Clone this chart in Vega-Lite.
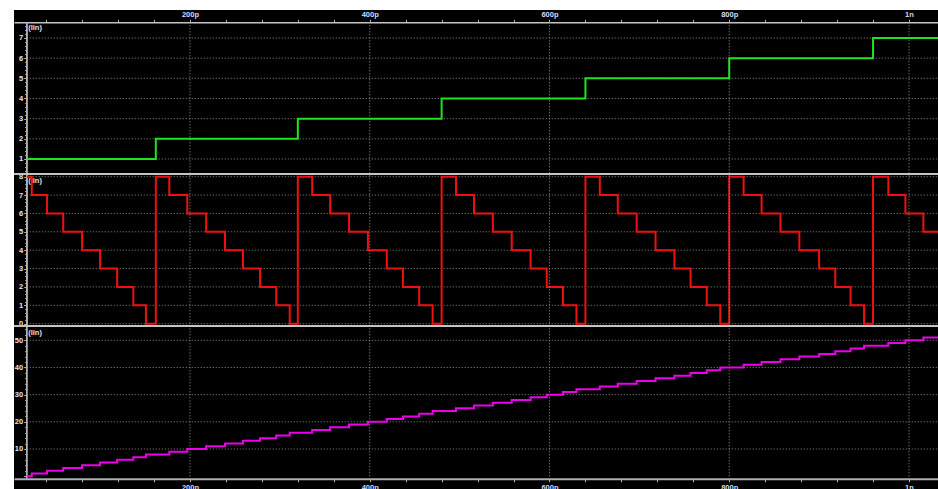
{
  "$schema": "https://vega.github.io/schema/vega-lite/v6.json",
  "width": 924,
  "height": 479,
  "autosize": {"type": "none"},
  "padding": {"left": 14, "top": 10, "right": 0, "bottom": 0},
  "background": "#ffffff",
  "config": {
    "view": {"fill": "#000000", "stroke": null},
    "axis": {
      "labelFont": "Liberation Sans",
      "labelFontWeight": "bold",
      "labelFontSize": 7.5,
      "labelColor": "#e4e4f6",
      "tickColor": "#b4b4b4",
      "domainColor": "#b4b4b4",
      "grid": false,
      "labelOverlap": false,
      "labelBound": false,
      "labelFlush": false,
      "titleFont": "Liberation Sans",
      "titleFontWeight": "bold",
      "titleFontSize": 7.5,
      "titleColor": "#e4e4f6"
    },
    "axisLeft": {"offset": -12.7, "domain": false, "labelPadding": 1, "titleAngle": 0, "titleAlign": "left", "titleBaseline": "middle", "titleX": 1},
    "axisTop": {"offset": -12.3, "tickSize": 3, "labelPadding": 1, "domainWidth": 1.5, "domainColor": "#c4c4c4", "labelColor": "#d6dcff"},
    "axisBottom": {"offset": -10.3, "tickSize": 3, "labelPadding": 2, "domainWidth": 2, "domainColor": "#a9b0b0", "labelColor": "#d6dcff"}
  },
  "datasets": {
    "gridTime": [{"t": 200}, {"t": 400}, {"t": 600}, {"t": 800}, {"t": 1000}],
    "gridA": [{"v": 1}, {"v": 2}, {"v": 3}, {"v": 4}, {"v": 5}, {"v": 6}, {"v": 7}],
    "gridB": [{"v": 0}, {"v": 1}, {"v": 2}, {"v": 3}, {"v": 4}, {"v": 5}, {"v": 6}, {"v": 7}, {"v": 8}],
    "gridC": [{"v": 10}, {"v": 20}, {"v": 30}, {"v": 40}, {"v": 50}],
    "stage": [
      {"t": 18.4, "v": 1}, {"t": 162, "v": 2}, {"t": 320, "v": 3}, {"t": 480, "v": 4},
      {"t": 640, "v": 5}, {"t": 800, "v": 6}, {"t": 960, "v": 7}, {"t": 1032.27, "v": 7}
    ],
    "countdown": [
      {"t": 18.4, "v": 8}, {"t": 24, "v": 7}, {"t": 41, "v": 6}, {"t": 59, "v": 5}, {"t": 80, "v": 4},
      {"t": 100, "v": 3}, {"t": 119, "v": 2}, {"t": 137, "v": 1}, {"t": 151, "v": 0},
      {"t": 162, "v": 8}, {"t": 177, "v": 7}, {"t": 197, "v": 6}, {"t": 218, "v": 5}, {"t": 239, "v": 4},
      {"t": 259, "v": 3}, {"t": 278, "v": 2}, {"t": 296, "v": 1}, {"t": 311, "v": 0},
      {"t": 320, "v": 8}, {"t": 336, "v": 7}, {"t": 356, "v": 6}, {"t": 377, "v": 5}, {"t": 398, "v": 4},
      {"t": 419, "v": 3}, {"t": 437, "v": 2}, {"t": 455, "v": 1}, {"t": 470, "v": 0},
      {"t": 480, "v": 8}, {"t": 496, "v": 7}, {"t": 516, "v": 6}, {"t": 537, "v": 5}, {"t": 558, "v": 4},
      {"t": 579, "v": 3}, {"t": 597, "v": 2}, {"t": 615, "v": 1}, {"t": 630, "v": 0},
      {"t": 640, "v": 8}, {"t": 656, "v": 7}, {"t": 676, "v": 6}, {"t": 697, "v": 5}, {"t": 718, "v": 4},
      {"t": 739, "v": 3}, {"t": 757, "v": 2}, {"t": 775, "v": 1}, {"t": 790, "v": 0},
      {"t": 800, "v": 8}, {"t": 816, "v": 7}, {"t": 836, "v": 6}, {"t": 857, "v": 5}, {"t": 878, "v": 4},
      {"t": 900, "v": 3}, {"t": 918, "v": 2}, {"t": 935, "v": 1}, {"t": 950, "v": 0},
      {"t": 960, "v": 8}, {"t": 977, "v": 7}, {"t": 996, "v": 6}, {"t": 1016, "v": 5}, {"t": 1032.27, "v": 5}
    ],
    "total": [
      {"t": 18.4, "v": 0}, {"t": 24, "v": 1}, {"t": 41, "v": 2}, {"t": 59, "v": 3}, {"t": 80, "v": 4},
      {"t": 100, "v": 5}, {"t": 119, "v": 6}, {"t": 137, "v": 7}, {"t": 151, "v": 8},
      {"t": 177, "v": 9}, {"t": 197, "v": 10}, {"t": 218, "v": 11}, {"t": 239, "v": 12},
      {"t": 259, "v": 13}, {"t": 278, "v": 14}, {"t": 296, "v": 15}, {"t": 311, "v": 16},
      {"t": 336, "v": 17}, {"t": 356, "v": 18}, {"t": 377, "v": 19}, {"t": 398, "v": 20},
      {"t": 419, "v": 21}, {"t": 437, "v": 22}, {"t": 455, "v": 23}, {"t": 470, "v": 24},
      {"t": 496, "v": 25}, {"t": 516, "v": 26}, {"t": 537, "v": 27}, {"t": 558, "v": 28},
      {"t": 579, "v": 29}, {"t": 597, "v": 30}, {"t": 615, "v": 31}, {"t": 630, "v": 32},
      {"t": 656, "v": 33}, {"t": 676, "v": 34}, {"t": 697, "v": 35}, {"t": 718, "v": 36},
      {"t": 739, "v": 37}, {"t": 757, "v": 38}, {"t": 775, "v": 39}, {"t": 790, "v": 40},
      {"t": 816, "v": 41}, {"t": 836, "v": 42}, {"t": 857, "v": 43}, {"t": 878, "v": 44},
      {"t": 900, "v": 45}, {"t": 918, "v": 46}, {"t": 935, "v": 47}, {"t": 950, "v": 48},
      {"t": 977, "v": 49}, {"t": 996, "v": 50}, {"t": 1016, "v": 51}, {"t": 1032.27, "v": 51}
    ]
  },
  "layer": [
    {
      "layer": [
        {
          "data": {"name": "gridA"},
          "mark": {"type": "rule", "color": "#8c8c8c", "strokeDash": [1, 2], "strokeWidth": 1},
          "encoding": {
            "x": {"datum": 18.4, "type": "quantitative", "scale": {"domain": [4.228, 1032.27], "nice": false, "zero": false},
              "axis": {"orient": "top", "title": null, "values": [40, 80, 120, 160, 200, 240, 280, 320, 360, 400, 440, 480, 520, 560, 600, 640, 680, 720, 760, 800, 840, 880, 920, 960, 1000], "labelExpr": "datum.value === 1000 ? '1n' : (datum.value % 200 === 0 ? datum.value + 'p' : '')"}},
            "x2": {"datum": 1032.27},
            "y": {"field": "v", "type": "quantitative", "scale": {"domain": [-15.363, 8.388], "nice": false, "zero": false},
              "axis": {"orient": "left", "values": [0.4, 0.6, 0.8, 1, 1.2, 1.4, 1.6, 1.8, 2, 2.2, 2.4, 2.6, 2.8, 3, 3.2, 3.4, 3.6, 3.8, 4, 4.2, 4.4, 4.6, 4.8, 5, 5.2, 5.4, 5.6, 5.8, 6, 6.2, 6.4, 6.6, 6.8, 7, 7.2, 7.4, 7.6], "labelExpr": "datum.value % 1 === 0 ? format(datum.value, 'd') : ''", "tickSize": {"condition": {"test": "datum.value % 1 === 0", "value": 3}, "value": 2}, "title": "(lin)", "titleY": 17.5}}
          }
        },
        {
          "data": {"name": "gridA"},
          "mark": {"type": "rule", "color": "#b4b4b4", "strokeWidth": 1},
          "encoding": {
            "x": {"datum": 18.4, "type": "quantitative", "scale": {"domain": [4.228, 1032.27], "nice": false, "zero": false},
              "axis": {"orient": "top", "title": null, "values": [40, 80, 120, 160, 200, 240, 280, 320, 360, 400, 440, 480, 520, 560, 600, 640, 680, 720, 760, 800, 840, 880, 920, 960, 1000], "labelExpr": "datum.value === 1000 ? '1n' : (datum.value % 200 === 0 ? datum.value + 'p' : '')"}},
            "y": {"datum": 7.778, "type": "quantitative", "scale": {"domain": [-15.363, 8.388], "nice": false, "zero": false},
              "axis": {"orient": "left", "values": [0.4, 0.6, 0.8, 1, 1.2, 1.4, 1.6, 1.8, 2, 2.2, 2.4, 2.6, 2.8, 3, 3.2, 3.4, 3.6, 3.8, 4, 4.2, 4.4, 4.6, 4.8, 5, 5.2, 5.4, 5.6, 5.8, 6, 6.2, 6.4, 6.6, 6.8, 7, 7.2, 7.4, 7.6], "labelExpr": "datum.value % 1 === 0 ? format(datum.value, 'd') : ''", "tickSize": {"condition": {"test": "datum.value % 1 === 0", "value": 3}, "value": 2}, "title": "(lin)", "titleY": 17.5}},
            "y2": {"datum": 0.256}
          }
        },
        {
          "data": {"name": "stage"},
          "mark": {"type": "line", "interpolate": "step-after", "color": "#1ee31e", "strokeWidth": 2, "clip": true},
          "encoding": {
            "x": {"field": "t", "type": "quantitative", "scale": {"domain": [4.228, 1032.27], "nice": false, "zero": false},
              "axis": {"orient": "top", "title": null, "values": [40, 80, 120, 160, 200, 240, 280, 320, 360, 400, 440, 480, 520, 560, 600, 640, 680, 720, 760, 800, 840, 880, 920, 960, 1000], "labelExpr": "datum.value === 1000 ? '1n' : (datum.value % 200 === 0 ? datum.value + 'p' : '')"}},
            "y": {"field": "v", "type": "quantitative", "scale": {"domain": [-15.363, 8.388], "nice": false, "zero": false},
              "axis": {"orient": "left", "values": [0.4, 0.6, 0.8, 1, 1.2, 1.4, 1.6, 1.8, 2, 2.2, 2.4, 2.6, 2.8, 3, 3.2, 3.4, 3.6, 3.8, 4, 4.2, 4.4, 4.6, 4.8, 5, 5.2, 5.4, 5.6, 5.8, 6, 6.2, 6.4, 6.6, 6.8, 7, 7.2, 7.4, 7.6], "labelExpr": "datum.value % 1 === 0 ? format(datum.value, 'd') : ''", "tickSize": {"condition": {"test": "datum.value % 1 === 0", "value": 3}, "value": 2}, "title": "(lin)", "titleY": 17.5}}
          }
        }
      ]
    },
    {
      "layer": [
        {
          "data": {"name": "gridB"},
          "mark": {"type": "rule", "color": "#8c8c8c", "strokeDash": [1, 2], "strokeWidth": 1},
          "encoding": {
            "x": {"datum": 18.4, "type": "quantitative", "scale": {"domain": [4.228, 1032.27], "nice": false, "zero": false}, "axis": null},
            "x2": {"datum": 1032.27},
            "y": {"field": "v", "type": "quantitative", "scale": {"domain": [-8.998, 17.07], "nice": false, "zero": false},
              "axis": {"orient": "left", "values": [0, 0.2, 0.4, 0.6, 0.8, 1, 1.2, 1.4, 1.6, 1.8, 2, 2.2, 2.4, 2.6, 2.8, 3, 3.2, 3.4, 3.6, 3.8, 4, 4.2, 4.4, 4.6, 4.8, 5, 5.2, 5.4, 5.6, 5.8, 6, 6.2, 6.4, 6.6, 6.8, 7, 7.2, 7.4, 7.6, 7.8, 8], "labelExpr": "datum.value % 1 === 0 ? format(datum.value, 'd') : ''", "tickSize": {"condition": {"test": "datum.value % 1 === 0", "value": 3}, "value": 2}, "title": "(lin)", "titleY": 170.5}}
          }
        },
        {
          "data": {"name": "gridB"},
          "mark": {"type": "rule", "color": "#b4b4b4", "strokeWidth": 1},
          "encoding": {
            "x": {"datum": 18.4, "type": "quantitative", "scale": {"domain": [4.228, 1032.27], "nice": false, "zero": false}, "axis": null},
            "y": {"datum": 8.145, "type": "quantitative", "scale": {"domain": [-8.998, 17.07], "nice": false, "zero": false},
              "axis": {"orient": "left", "values": [0, 0.2, 0.4, 0.6, 0.8, 1, 1.2, 1.4, 1.6, 1.8, 2, 2.2, 2.4, 2.6, 2.8, 3, 3.2, 3.4, 3.6, 3.8, 4, 4.2, 4.4, 4.6, 4.8, 5, 5.2, 5.4, 5.6, 5.8, 6, 6.2, 6.4, 6.6, 6.8, 7, 7.2, 7.4, 7.6, 7.8, 8], "labelExpr": "datum.value % 1 === 0 ? format(datum.value, 'd') : ''", "tickSize": {"condition": {"test": "datum.value % 1 === 0", "value": 3}, "value": 2}, "title": "(lin)", "titleY": 170.5}},
            "y2": {"datum": -0.125}
          }
        },
        {
          "data": {"name": "gridB"},
          "mark": {"type": "rule", "color": "#c4c4c4", "strokeWidth": 1.5},
          "encoding": {
            "x": {"datum": 4.228, "type": "quantitative", "scale": {"domain": [4.228, 1032.27], "nice": false, "zero": false}, "axis": null},
            "x2": {"datum": 1032.27},
            "y": {"datum": 8.145, "type": "quantitative", "scale": {"domain": [-8.998, 17.07], "nice": false, "zero": false},
              "axis": {"orient": "left", "values": [0, 0.2, 0.4, 0.6, 0.8, 1, 1.2, 1.4, 1.6, 1.8, 2, 2.2, 2.4, 2.6, 2.8, 3, 3.2, 3.4, 3.6, 3.8, 4, 4.2, 4.4, 4.6, 4.8, 5, 5.2, 5.4, 5.6, 5.8, 6, 6.2, 6.4, 6.6, 6.8, 7, 7.2, 7.4, 7.6, 7.8, 8], "labelExpr": "datum.value % 1 === 0 ? format(datum.value, 'd') : ''", "tickSize": {"condition": {"test": "datum.value % 1 === 0", "value": 3}, "value": 2}, "title": "(lin)", "titleY": 170.5}}
          }
        },
        {
          "data": {"name": "countdown"},
          "mark": {"type": "line", "interpolate": "step-after", "color": "#f01010", "strokeWidth": 2, "clip": true},
          "encoding": {
            "x": {"field": "t", "type": "quantitative", "scale": {"domain": [4.228, 1032.27], "nice": false, "zero": false}, "axis": null},
            "y": {"field": "v", "type": "quantitative", "scale": {"domain": [-8.998, 17.07], "nice": false, "zero": false},
              "axis": {"orient": "left", "values": [0, 0.2, 0.4, 0.6, 0.8, 1, 1.2, 1.4, 1.6, 1.8, 2, 2.2, 2.4, 2.6, 2.8, 3, 3.2, 3.4, 3.6, 3.8, 4, 4.2, 4.4, 4.6, 4.8, 5, 5.2, 5.4, 5.6, 5.8, 6, 6.2, 6.4, 6.6, 6.8, 7, 7.2, 7.4, 7.6, 7.8, 8], "labelExpr": "datum.value % 1 === 0 ? format(datum.value, 'd') : ''", "tickSize": {"condition": {"test": "datum.value % 1 === 0", "value": 3}, "value": 2}, "title": "(lin)", "titleY": 170.5}}
          }
        }
      ]
    },
    {
      "layer": [
        {
          "data": {"name": "gridC"},
          "mark": {"type": "rule", "color": "#8c8c8c", "strokeDash": [1, 2], "strokeWidth": 1},
          "encoding": {
            "x": {"datum": 18.4, "type": "quantitative", "scale": {"domain": [4.228, 1032.27], "nice": false, "zero": false},
              "axis": {"orient": "bottom", "title": null, "values": [40, 80, 120, 160, 200, 240, 280, 320, 360, 400, 440, 480, 520, 560, 600, 640, 680, 720, 760, 800, 840, 880, 920, 960, 1000], "labelExpr": "datum.value === 1000 ? '1n' : (datum.value % 200 === 0 ? datum.value + 'p' : '')"}},
            "x2": {"datum": 1032.27},
            "y": {"field": "v", "type": "quantitative", "scale": {"domain": [-4.72, 171.55], "nice": false, "zero": false},
              "axis": {"orient": "left", "values": [0, 2, 4, 6, 8, 10, 12, 14, 16, 18, 20, 22, 24, 26, 28, 30, 32, 34, 36, 38, 40, 42, 44, 46, 48, 50, 52, 54], "labelExpr": "datum.value % 10 === 0 && datum.value > 0 ? format(datum.value, 'd') : ''", "tickSize": {"condition": {"test": "datum.value % 10 === 0", "value": 3}, "value": 2}, "title": "(lin)", "titleY": 322}}
          }
        },
        {
          "data": {"name": "gridTime"},
          "mark": {"type": "rule", "color": "#9a9a9a", "strokeDash": [1, 2], "strokeWidth": 1},
          "encoding": {
            "x": {"field": "t", "type": "quantitative", "scale": {"domain": [4.228, 1032.27], "nice": false, "zero": false},
              "axis": {"orient": "bottom", "title": null, "values": [40, 80, 120, 160, 200, 240, 280, 320, 360, 400, 440, 480, 520, 560, 600, 640, 680, 720, 760, 800, 840, 880, 920, 960, 1000], "labelExpr": "datum.value === 1000 ? '1n' : (datum.value % 200 === 0 ? datum.value + 'p' : '')"}},
            "y": {"datum": 167.02, "type": "quantitative", "scale": {"domain": [-4.72, 171.55], "nice": false, "zero": false},
              "axis": {"orient": "left", "values": [0, 2, 4, 6, 8, 10, 12, 14, 16, 18, 20, 22, 24, 26, 28, 30, 32, 34, 36, 38, 40, 42, 44, 46, 48, 50, 52, 54], "labelExpr": "datum.value % 10 === 0 && datum.value > 0 ? format(datum.value, 'd') : ''", "tickSize": {"condition": {"test": "datum.value % 10 === 0", "value": 3}, "value": 2}, "title": "(lin)", "titleY": 322}},
            "y2": {"datum": -0.929}
          }
        },
        {
          "data": {"name": "gridC"},
          "mark": {"type": "rule", "color": "#b4b4b4", "strokeWidth": 1},
          "encoding": {
            "x": {"datum": 18.4, "type": "quantitative", "scale": {"domain": [4.228, 1032.27], "nice": false, "zero": false},
              "axis": {"orient": "bottom", "title": null, "values": [40, 80, 120, 160, 200, 240, 280, 320, 360, 400, 440, 480, 520, 560, 600, 640, 680, 720, 760, 800, 840, 880, 920, 960, 1000], "labelExpr": "datum.value === 1000 ? '1n' : (datum.value % 200 === 0 ? datum.value + 'p' : '')"}},
            "y": {"datum": 55.26, "type": "quantitative", "scale": {"domain": [-4.72, 171.55], "nice": false, "zero": false},
              "axis": {"orient": "left", "values": [0, 2, 4, 6, 8, 10, 12, 14, 16, 18, 20, 22, 24, 26, 28, 30, 32, 34, 36, 38, 40, 42, 44, 46, 48, 50, 52, 54], "labelExpr": "datum.value % 10 === 0 && datum.value > 0 ? format(datum.value, 'd') : ''", "tickSize": {"condition": {"test": "datum.value % 10 === 0", "value": 3}, "value": 2}, "title": "(lin)", "titleY": 322}},
            "y2": {"datum": -0.929}
          }
        },
        {
          "data": {"name": "gridC"},
          "mark": {"type": "rule", "color": "#c4c4c4", "strokeWidth": 1.5},
          "encoding": {
            "x": {"datum": 4.228, "type": "quantitative", "scale": {"domain": [4.228, 1032.27], "nice": false, "zero": false},
              "axis": {"orient": "bottom", "title": null, "values": [40, 80, 120, 160, 200, 240, 280, 320, 360, 400, 440, 480, 520, 560, 600, 640, 680, 720, 760, 800, 840, 880, 920, 960, 1000], "labelExpr": "datum.value === 1000 ? '1n' : (datum.value % 200 === 0 ? datum.value + 'p' : '')"}},
            "x2": {"datum": 1032.27},
            "y": {"datum": 55.26, "type": "quantitative", "scale": {"domain": [-4.72, 171.55], "nice": false, "zero": false},
              "axis": {"orient": "left", "values": [0, 2, 4, 6, 8, 10, 12, 14, 16, 18, 20, 22, 24, 26, 28, 30, 32, 34, 36, 38, 40, 42, 44, 46, 48, 50, 52, 54], "labelExpr": "datum.value % 10 === 0 && datum.value > 0 ? format(datum.value, 'd') : ''", "tickSize": {"condition": {"test": "datum.value % 10 === 0", "value": 3}, "value": 2}, "title": "(lin)", "titleY": 322}}
          }
        },
        {
          "data": {"name": "total"},
          "mark": {"type": "line", "interpolate": "step-after", "color": "#ec00ec", "strokeWidth": 2, "clip": true},
          "encoding": {
            "x": {"field": "t", "type": "quantitative", "scale": {"domain": [4.228, 1032.27], "nice": false, "zero": false},
              "axis": {"orient": "bottom", "title": null, "values": [40, 80, 120, 160, 200, 240, 280, 320, 360, 400, 440, 480, 520, 560, 600, 640, 680, 720, 760, 800, 840, 880, 920, 960, 1000], "labelExpr": "datum.value === 1000 ? '1n' : (datum.value % 200 === 0 ? datum.value + 'p' : '')"}},
            "y": {"field": "v", "type": "quantitative", "scale": {"domain": [-4.72, 171.55], "nice": false, "zero": false},
              "axis": {"orient": "left", "values": [0, 2, 4, 6, 8, 10, 12, 14, 16, 18, 20, 22, 24, 26, 28, 30, 32, 34, 36, 38, 40, 42, 44, 46, 48, 50, 52, 54], "labelExpr": "datum.value % 10 === 0 && datum.value > 0 ? format(datum.value, 'd') : ''", "tickSize": {"condition": {"test": "datum.value % 10 === 0", "value": 3}, "value": 2}, "title": "(lin)", "titleY": 322}}
          }
        }
      ]
    }
  ],
  "resolve": {"scale": {"x": "independent", "y": "independent"}}
}
